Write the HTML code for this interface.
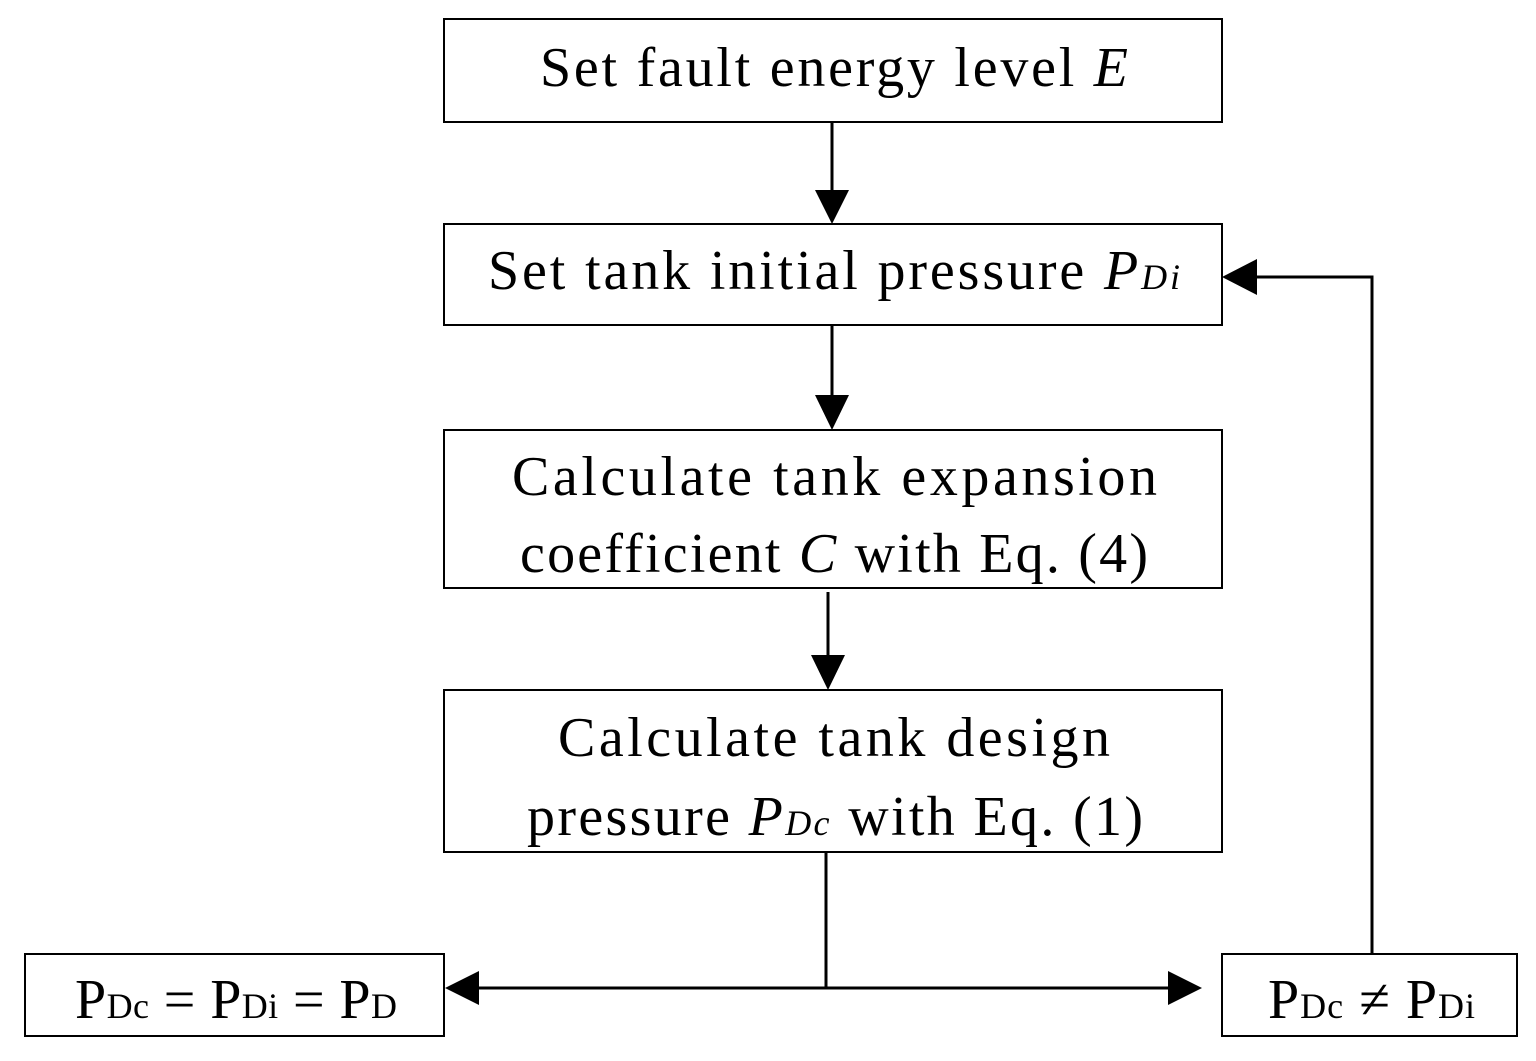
<!DOCTYPE html>
<html><head><style>
body{margin:0;background:#fff}
svg{display:block}
text{font-family:"Liberation Serif",serif;fill:#000}
</style></head><body>
<svg width="1536" height="1061" viewBox="0 0 1536 1061" xmlns="http://www.w3.org/2000/svg">
<g fill="none" stroke="#000" stroke-width="2">
<rect x="444" y="19" width="778" height="103"/>
<rect x="444" y="224" width="778" height="101"/>
<rect x="444" y="430" width="778" height="158"/>
<rect x="444" y="690" width="778" height="162"/>
<rect x="25" y="954" width="419" height="82"/>
<rect x="1222" y="954" width="295" height="82"/>
</g>
<g stroke="#000" stroke-width="3" fill="none">
<line x1="832" y1="122" x2="832" y2="192"/>
<line x1="832" y1="325" x2="832" y2="396"/>
<line x1="828" y1="592" x2="828" y2="656"/>
<line x1="826" y1="852" x2="826" y2="988"/>
<line x1="478" y1="988" x2="1168" y2="988"/>
<polyline points="1372,954 1372,277 1256,277"/>
</g>
<g fill="#000">
<polygon points="815,190 849,190 832,224"/>
<polygon points="815,395 849,395 832,430"/>
<polygon points="811,655 845,655 828,690"/>
<polygon points="445,988 479,971 479,1005"/>
<polygon points="1202,988 1168,971 1168,1005"/>
<polygon points="1222,277 1257,259 1257,295"/>
</g>
<g font-size="56" lengthAdjust="spacing">
<text x="540" y="86" textLength="588" lengthAdjust="spacing">Set fault energy level <tspan font-style="italic">E</tspan></text>
<text x="488" y="289" textLength="692" lengthAdjust="spacing">Set tank initial pressure <tspan font-style="italic">P<tspan font-size="36">Di</tspan></tspan></text>
<text x="512" y="495" textLength="645" lengthAdjust="spacing">Calculate tank expansion</text>
<text x="520" y="572" textLength="628" lengthAdjust="spacing">coefficient <tspan font-style="italic">C</tspan> with Eq. (4)</text>
<text x="558" y="756" textLength="552" lengthAdjust="spacing">Calculate tank design</text>
<text x="527" y="835" textLength="616" lengthAdjust="spacing">pressure <tspan font-style="italic">P<tspan font-size="36">Dc</tspan></tspan> with Eq. (1)</text>
<text x="75" y="1018" textLength="322" lengthAdjust="spacing">P<tspan font-size="36">Dc</tspan> = P<tspan font-size="36">Di</tspan> = P<tspan font-size="36">D</tspan></text>
<text x="1268" y="1018" textLength="207" lengthAdjust="spacing">P<tspan font-size="36">Dc</tspan> ≠ P<tspan font-size="36">Di</tspan></text>
</g>
</svg>
</body></html>
